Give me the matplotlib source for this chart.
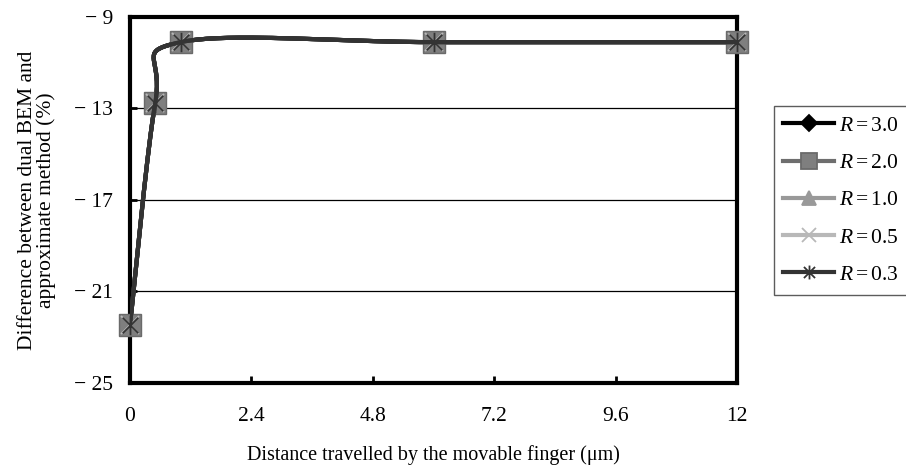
import numpy as np
import matplotlib
matplotlib.use("Agg")
import matplotlib.pyplot as plt
from matplotlib.path import Path

plt.rcParams['font.family'] = ['Liberation Serif', 'DejaVu Serif']
plt.rcParams['mathtext.fontset'] = 'custom'
plt.rcParams['mathtext.rm'] = 'Liberation Serif'
plt.rcParams['mathtext.it'] = 'Liberation Serif:italic'

distance = [0, 0.5, 1, 6, 12]
series_labels = ['3.0', '2.0', '1.0', '0.5', '0.3']
r30 = [-22.45, -12.75, -10.1, -10.1, -10.1]
r20 = [-22.45, -12.75, -10.1, -10.1, -10.1]
r10 = [-22.45, -12.75, -10.1, -10.1, -10.1]
r05 = [-22.45, -12.75, -10.1, -10.1, -10.1]
r03 = [-22.45, -12.75, -10.1, -10.1, -10.1]
xticks = [0, 2.4, 4.8, 7.2, 9.6, 12]
xticklabels = ['0', '2.4', '4.8', '7.2', '9.6', '12']
yticks = [-25, -21, -17, -13, -9]
yticklabels = ['\u2212 25', '\u2212 21', '\u2212 17', '\u2212 13', '\u2212 9']


def smooth(x, y, n=40):
    # Excel-like Bezier smoothing between the points
    P = np.column_stack([x, y]).astype(float)
    Pe = np.vstack([P[0], P, P[-1]])
    out = []
    for i in range(len(P) - 1):
        p0, p1, p2, p3 = Pe[i], Pe[i + 1], Pe[i + 2], Pe[i + 3]
        c1 = p1 + (p2 - p0) / 6.0
        c2 = p2 - (p3 - p1) / 6.0
        t = np.linspace(0, 1, n)[:, None]
        seg = ((1 - t) ** 3) * p1 + 3 * ((1 - t) ** 2) * t * c1 + 3 * (1 - t) * t ** 2 * c2 + t ** 3 * p2
        out.append(seg if i == 0 else seg[1:])
    S = np.vstack(out)
    return S[:, 0], S[:, 1]


# asterisk marker (vertical bar + X)
ast = Path([(0, -1), (0, 1), (-0.8, -0.8), (0.8, 0.8), (-0.8, 0.8), (0.8, -0.8)],
           [Path.MOVETO, Path.LINETO, Path.MOVETO, Path.LINETO, Path.MOVETO, Path.LINETO])

fig = plt.figure(figsize=(9.06, 4.69), dpi=100)
ax = fig.add_axes([0.1435, 0.1834, 0.670, 0.7804])

# (values, marker, line colour, marker face, marker edge, plot size, legend size, zorder, label)
styles = [
    (r30, 'D', '#000000', '#000000', '#000000', 9, 8.5, 2, '3.0'),
    (r10, '^', '#999999', '#999999', '#999999', 10, 10, 3, '1.0'),
    (r20, 's', '#6e6e6e', '#7f7f7f', '#6a6a6a', 16.5, 11, 4, '2.0'),
    (r05, 'x', '#b8b8b8', '#b8b8b8', '#b8b8b8', 13, 10, 5, '0.5'),
    (r03, ast, '#333333', '#333333', '#333333', 14, 10, 6, '0.3'),
]
handles = {}
for vals, mk, lc, mfc, mec, ms, lms, z, lab in styles:
    sx, sy = smooth(distance, vals)
    ax.plot(sx, sy, color='#333333', lw=3, zorder=z, solid_capstyle='round')
    mew = 1.0 if mk in ('s', 'D', '^') else 1.3
    ax.plot(distance, vals, ls='none', marker=mk, ms=ms, mfc=mfc, mec=mec, mew=mew,
            zorder=z + 0.5, clip_on=False)
    h, = ax.plot([], [], color=lc, lw=3, marker=mk, ms=lms,
                 mfc=mfc, mec=mec, mew=1.3, label=r'$R = \mathrm{' + lab + '}$')
    handles[lab] = h

ax.set_xlim(0, 12)
ax.set_ylim(-25, -9)
ax.set_xticks(xticks)
ax.set_xticklabels(xticklabels)
ax.set_yticks(yticks)
ax.set_yticklabels(yticklabels)
for yv in [-21, -17, -13]:
    ax.axhline(yv, color='black', lw=0.9, zorder=1)
for s in ax.spines.values():
    s.set_linewidth(3)
ax.tick_params(direction='in', length=5, width=2, labelsize=15.5, pad=17)
ax.tick_params(axis='y', pad=12)

ax.set_xlabel('Distance travelled by the movable finger (\u03bcm)', fontsize=14.5, labelpad=14)
ax.set_ylabel('Difference between dual BEM and\napproximate method (%)', fontsize=15.5,
              labelpad=13, linespacing=0.95)

leg = fig.legend(handles=[handles[l] for l in series_labels], loc='upper left',
                 bbox_to_anchor=(0.854, 0.774), frameon=True, fancybox=False,
                 edgecolor='#333333', fontsize=15.5, handlelength=2.35, labelspacing=0.8,
                 borderpad=0.45, handletextpad=0.25, borderaxespad=0)
leg.get_frame().set_linewidth(1.0)

fig.savefig('out.png', dpi=100)
